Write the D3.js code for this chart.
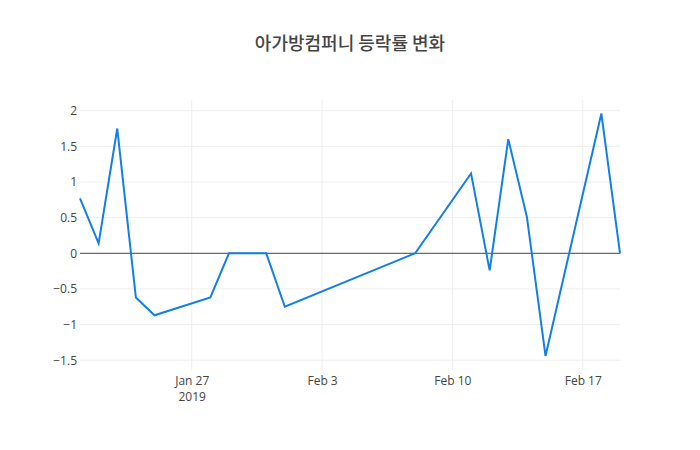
<!DOCTYPE html>
<html>
<head>
<meta charset="utf-8">
<script src="https://cdn.jsdelivr.net/npm/d3@7"></script>
<style>
  body { margin: 0; background: #fff; }
  svg { font-family: "Open Sans", "Noto Sans CJK KR", sans-serif; }
</style>
</head>
<body>
<svg width="700" height="450"></svg>
<script>
var chartTitle = "아가방컴퍼니 등락률 변화";

var dates = ["2019-01-21", "2019-01-22", "2019-01-23", "2019-01-24", "2019-01-25",
    "2019-01-28", "2019-01-29", "2019-01-30", "2019-01-31", "2019-02-01",
    "2019-02-08", "2019-02-11", "2019-02-12", "2019-02-13", "2019-02-14",
    "2019-02-15", "2019-02-18", "2019-02-19"];
var rates = [0.77, 0.14, 1.75, -0.62, -0.87,
    -0.62, 0, 0, 0, -0.75,
    0, 1.12, -0.24, 1.6, 0.51,
    -1.44, 1.96, 0];

var yTicks = [-1.5, -1, -0.5, 0, 0.5, 1, 1.5, 2];
var xTicks = ["2019-01-27", "2019-02-03", "2019-02-10", "2019-02-17"];

var parseDate = d3.timeParse("%Y-%m-%d");
var data = dates.map(function(d, i) { return {date: parseDate(d), value: rates[i]}; });

var svg = d3.select("svg");
var margin = {top: 100, right: 80, bottom: 80, left: 80};
var width = 700 - margin.left - margin.right;
var height = 450 - margin.top - margin.bottom;

var g = svg.append("g")
    .attr("transform", "translate(" + margin.left + "," + margin.top + ")");

var x = d3.scaleTime()
    .domain(d3.extent(data, function(d) { return d.date; }))
    .range([0, width]);

var y = d3.scaleLinear()
    .domain([-1.637, 2.15])
    .range([height, 0]);

// grid lines
g.append("g").selectAll("line.xg")
    .data(xTicks.map(parseDate))
    .enter().append("line")
    .attr("x1", function(d) { return x(d); })
    .attr("x2", function(d) { return x(d); })
    .attr("y1", 0).attr("y2", height)
    .attr("stroke", "#eee").attr("stroke-width", 1);

g.append("g").selectAll("line.yg")
    .data(yTicks.filter(function(d) { return d !== 0; }))
    .enter().append("line")
    .attr("x1", 0).attr("x2", width)
    .attr("y1", function(d) { return y(d); })
    .attr("y2", function(d) { return y(d); })
    .attr("stroke", "#eee").attr("stroke-width", 1);

// zero line
g.append("line")
    .attr("x1", 0).attr("x2", width)
    .attr("y1", y(0)).attr("y2", y(0))
    .attr("stroke", "#444").attr("stroke-width", 1);

// y axis labels
var yAxis = g.append("g")
    .call(d3.axisLeft(y).tickValues(yTicks).tickSize(0).tickPadding(3)
        .tickFormat(function(d) { return d < 0 ? "\u2212" + Math.abs(d) : d; }));
yAxis.select(".domain").remove();
yAxis.selectAll("text").attr("font-size", 12).attr("fill", "#444")
    .attr("font-family", "'Open Sans', sans-serif");

// x axis labels
var xAxis = g.append("g")
    .attr("transform", "translate(0," + height + ")")
    .call(d3.axisBottom(x).tickValues(xTicks.map(parseDate)).tickSize(0).tickPadding(6)
        .tickFormat(d3.timeFormat("%b %-d")));
xAxis.select(".domain").remove();
xAxis.selectAll("text").attr("font-size", 12).attr("fill", "#444")
    .attr("font-family", "'Open Sans', sans-serif");
xAxis.selectAll(".tick").filter(function(d, i) { return i === 0; })
    .append("text")
    .attr("y", 22)
    .attr("dy", "0.71em")
    .attr("font-size", 12).attr("fill", "#444")
    .attr("font-family", "'Open Sans', sans-serif")
    .attr("text-anchor", "middle")
    .text("2019");

// line
var line = d3.line()
    .x(function(d) { return x(d.date); })
    .y(function(d) { return y(d.value); });

g.append("path")
    .datum(data)
    .attr("fill", "none")
    .attr("stroke", "#127fe6")
    .attr("stroke-width", 2)
    .attr("stroke-linejoin", "miter")
    .attr("d", line);

// title
svg.append("text")
    .attr("x", 350)
    .attr("y", 50)
    .attr("text-anchor", "middle")
    .attr("font-size", 18)
    .attr("font-weight", 500)
    .attr("fill", "#444")
    .attr("font-family", "'Noto Sans CJK KR', 'Open Sans', sans-serif")
    .text(chartTitle);
</script>
</body>
</html>
